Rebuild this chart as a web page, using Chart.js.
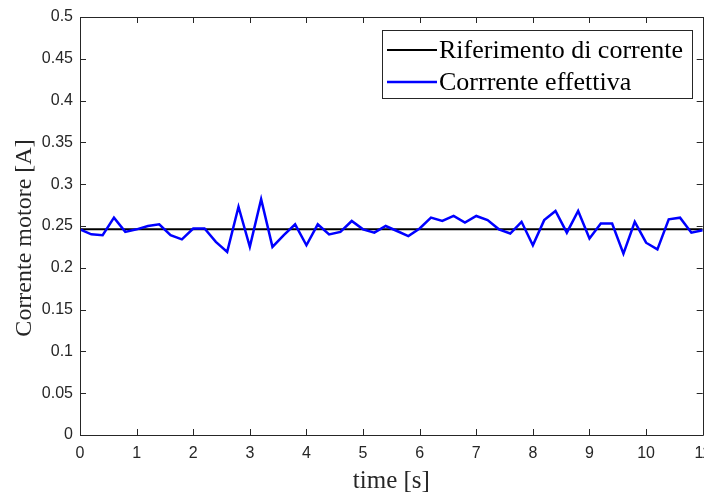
<!DOCTYPE html>
<html>
<head>
<meta charset="utf-8">
<script src="https://cdn.jsdelivr.net/npm/chart.js@4"></script>
<style>
  html, body { margin: 0; padding: 0; background: #fff; overflow: hidden; }
  #wrap { width: 720px; height: 492px; }
</style>
</head>
<body>
<div id="wrap"><canvas id="motorChart" width="720" height="492"></canvas></div>
<script>
var timeS = [0, 0.2, 0.4, 0.6, 0.8, 1, 1.2, 1.4, 1.6, 1.8, 2, 2.2, 2.4, 2.6, 2.8, 3, 3.2, 3.4, 3.6, 3.8,
    4, 4.2, 4.4, 4.6, 4.8, 5, 5.2, 5.4, 5.6, 5.8, 6, 6.2, 6.4, 6.6, 6.8, 7, 7.2, 7.4, 7.6, 7.8,
    8, 8.2, 8.4, 8.6, 8.8, 9, 9.2, 9.4, 9.6, 9.8, 10, 10.2, 10.4, 10.6, 10.8, 11];
var corrEffettiva = [0.246, 0.240, 0.239, 0.260, 0.243, 0.246, 0.250, 0.252, 0.239, 0.234,
    0.247, 0.247, 0.231, 0.219, 0.273, 0.225, 0.282, 0.225, 0.239, 0.252,
    0.227, 0.252, 0.240, 0.243, 0.256, 0.246, 0.242, 0.250, 0.244, 0.238,
    0.247, 0.260, 0.256, 0.262, 0.254, 0.262, 0.257, 0.246, 0.241, 0.255,
    0.227, 0.257, 0.268, 0.242, 0.268, 0.235, 0.253, 0.253, 0.217, 0.255,
    0.230, 0.222, 0.258, 0.260, 0.242, 0.245];
var rifTime = [0, 11];
var rifCorrente = [0.246, 0.246];
var xTicks = [0, 1, 2, 3, 4, 5, 6, 7, 8, 9, 10, 11];
var yTicks = [0, 0.05, 0.1, 0.15, 0.2, 0.25, 0.3, 0.35, 0.4, 0.45, 0.5];
var seriesNames = ['Riferimento di corrente', 'Corrrente effettiva'];
var xTitle = 'time [s]';
var yTitle = 'Corrente motore [A]';

var axisColor = '#262626';
var serif = "'Liberation Serif', 'Times New Roman', serif";
var sans = "'Liberation Sans', Arial, sans-serif";

function toPoints(xs, ys) {
    var pts = [];
    for (var i = 0; i < xs.length; i++) {
        pts.push({ x: xs[i], y: ys[i] });
    }
    return pts;
}

// box, inward ticks, y label and legend, drawn like the matlab figure
var matlabFrame = {
    id: 'matlabFrame',
    afterDraw: function (chart) {
        var ctx = chart.ctx;
        var a = chart.chartArea;
        var xs = chart.scales.x, ys = chart.scales.y;
        var tl = 6;
        ctx.save();
        ctx.strokeStyle = axisColor;
        ctx.lineWidth = 1;
        ctx.beginPath();
        ctx.rect(Math.round(a.left) + 0.5, Math.round(a.top) + 0.5,
            Math.round(a.right - a.left), Math.round(a.bottom - a.top));
        xTicks.forEach(function (v) {
            var px = Math.round(xs.getPixelForValue(v)) + 0.5;
            ctx.moveTo(px, a.bottom); ctx.lineTo(px, a.bottom - tl);
            ctx.moveTo(px, a.top); ctx.lineTo(px, a.top + tl);
        });
        yTicks.forEach(function (v) {
            var py = Math.round(ys.getPixelForValue(v)) + 0.5;
            ctx.moveTo(a.left, py); ctx.lineTo(a.left + tl, py);
            ctx.moveTo(a.right, py); ctx.lineTo(a.right - tl, py);
        });
        ctx.stroke();

        // y axis title
        ctx.fillStyle = axisColor;
        ctx.font = '24px ' + serif;
        ctx.textAlign = 'center';
        ctx.textBaseline = 'middle';
        ctx.translate(25, 238);
        ctx.rotate(-Math.PI / 2);
        ctx.fillText(yTitle, 0, 0);
        ctx.restore();

        // legend
        ctx.save();
        var bx = 382, by = 30, bw = 310, bh = 68;
        ctx.fillStyle = '#fff';
        ctx.fillRect(bx, by, bw, bh);
        ctx.strokeStyle = axisColor;
        ctx.lineWidth = 1;
        ctx.strokeRect(bx + 0.5, by + 0.5, bw, bh);
        var rows = [50, 82];
        chart.data.datasets.forEach(function (ds, i) {
            ctx.strokeStyle = ds.borderColor;
            ctx.lineWidth = ds.borderWidth;
            ctx.beginPath();
            ctx.moveTo(387, rows[i]);
            ctx.lineTo(437, rows[i]);
            ctx.stroke();
            ctx.fillStyle = '#000';
            ctx.font = '26px ' + serif;
            ctx.textAlign = 'left';
            ctx.textBaseline = 'middle';
            ctx.fillText(ds.label, 439, rows[i] + 1);
        });
        ctx.restore();
    }
};

var chart = new Chart(document.getElementById('motorChart').getContext('2d'), {
    type: 'line',
    data: {
        datasets: [{
            label: seriesNames[0],
            data: toPoints(rifTime, rifCorrente),
            borderColor: '#000000',
            borderWidth: 2,
            pointRadius: 0,
            order: 2
        }, {
            label: seriesNames[1],
            data: toPoints(timeS, corrEffettiva),
            borderColor: '#0000ff',
            borderWidth: 2.5,
            pointRadius: 0,
            tension: 0,
            order: 1
        }]
    },
    options: {
        responsive: false,
        animation: false,
        layout: { padding: { top: 17, right: 16, left: 0, bottom: 0 } },
        plugins: {
            legend: { display: false },
            tooltip: { enabled: false }
        },
        scales: {
            x: {
                type: 'linear',
                min: 0,
                max: 11,
                afterBuildTicks: function (s) { s.ticks = xTicks.map(function (v) { return { value: v }; }); },
                afterFit: function (s) { s.height = 57; },
                grid: { display: false, drawTicks: false },
                border: { display: false },
                ticks: {
                    padding: 9,
                    color: axisColor,
                    font: { family: sans, size: 16 },
                    maxRotation: 0,
                    autoSkip: false,
                    callback: function (v) { return String(v); }
                },
                title: {
                    display: true,
                    text: xTitle,
                    color: axisColor,
                    font: { family: serif, size: 25, lineHeight: '22px' },
                    padding: { top: 0, bottom: 0 }
                }
            },
            y: {
                min: 0,
                max: 0.5,
                afterBuildTicks: function (s) { s.ticks = yTicks.map(function (v) { return { value: v }; }); },
                afterFit: function (s) { s.width = 80; },
                grid: { display: false, drawTicks: false },
                border: { display: false },
                ticks: {
                    padding: 7,
                    color: axisColor,
                    font: { family: sans, size: 16 },
                    autoSkip: false,
                    callback: function (v) { return String(Number(v.toFixed(2))); }
                }
            }
        }
    },
    plugins: [matlabFrame]
});
</script>
</body>
</html>
